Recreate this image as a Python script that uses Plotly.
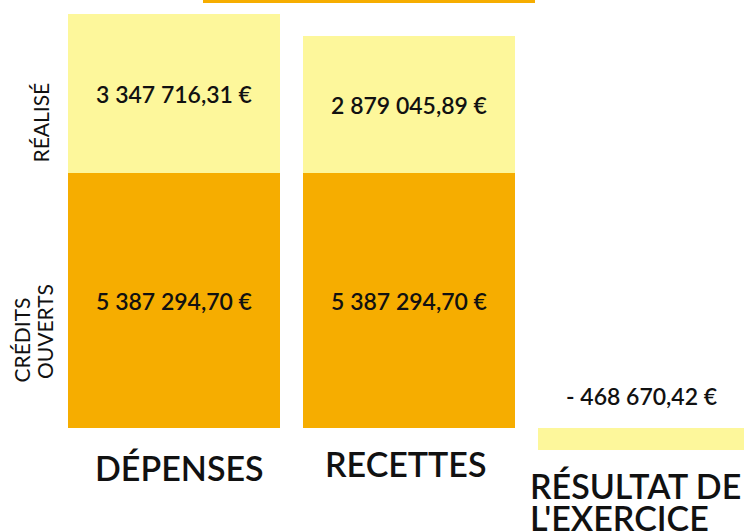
import plotly.graph_objects as go

categories = ["DÉPENSES", "RECETTES", "RÉSULTAT DE L'EXERCICE"]
credits_ouverts = [5387294.70, 5387294.70, None]
realise = [3347716.31, 2879045.89, None]
resultat = [None, None, -468670.42]

credits_txt = ["5 387 294,70 €", "5 387 294,70 €", ""]
realise_txt = ["3 347 716,31 €", "2 879 045,89 €", ""]
resultat_txt = "- 468 670,42 €"

YELLOW = "#FDF79B"
ORANGE = "#F6AD00"
FONT = "Lato"
INK = "#111111"
PX = 21100.0  # data units per pixel
VAL_FONT = dict(family=FONT, size=23, color=INK, weight=600)
CAT_FONT = dict(family=FONT, size=34, color=INK, weight=600)
SIDE_FONT = dict(family=FONT, size=21, color=INK)

fig = go.Figure()
fig.add_trace(go.Bar(x=categories, y=credits_ouverts, marker=dict(color=ORANGE, line=dict(width=0)),
                     width=0.902, text=credits_txt, textposition="inside", insidetextanchor="middle",
                     textfont=VAL_FONT, textangle=0, hoverinfo="skip"))
fig.add_trace(go.Bar(x=categories, y=realise, marker=dict(color=YELLOW, line=dict(width=0)),
                     width=0.902, text=realise_txt, textposition="inside", insidetextanchor="middle",
                     textfont=VAL_FONT, textangle=0, hoverinfo="skip"))
fig.add_trace(go.Bar(x=categories, y=resultat, marker=dict(color=YELLOW, line=dict(width=0)),
                     width=0.902, text=None, hoverinfo="skip"))

def xpx(p):
    return p / 235 - 0.7404

def ypx(p):
    return (428 - p) * PX

annotations = [
    dict(x=xpx(641), y=ypx(396), xref="x", yref="y", text=resultat_txt, showarrow=False,
         font=VAL_FONT, xanchor="center", yanchor="middle"),
    dict(x=xpx(179), y=ypx(467), xref="x", yref="y", text="DÉPENSES", showarrow=False,
         font=CAT_FONT, xanchor="center", yanchor="middle"),
    dict(x=xpx(405), y=ypx(463), xref="x", yref="y", text="RECETTES", showarrow=False,
         font=CAT_FONT, xanchor="center", yanchor="middle"),
    dict(x=xpx(528), y=ypx(485), xref="x", yref="y", text="RÉSULTAT DE",
         showarrow=False, font=CAT_FONT, xanchor="left", yanchor="middle"),
    dict(x=xpx(528), y=ypx(517), xref="x", yref="y", text="L'EXERCICE",
         showarrow=False, font=CAT_FONT, xanchor="left", yanchor="middle"),
    dict(x=39.5 / 744, y=ypx(123), xref="paper", yref="y", text="RÉALISÉ", showarrow=False,
         textangle=-90, font=SIDE_FONT, xanchor="center", yanchor="middle"),
    dict(x=20.5 / 744, y=ypx(340), xref="paper", yref="y", text="CRÉDITS", showarrow=False,
         textangle=-90, font=SIDE_FONT, xanchor="center", yanchor="middle"),
    dict(x=44 / 744, y=ypx(332), xref="paper", yref="y", text="OUVERTS", showarrow=False,
         textangle=-90, font=SIDE_FONT, xanchor="center", yanchor="middle"),
]

fig.update_layout(
    width=744, height=532,
    margin=dict(l=0, r=0, t=0, b=0),
    paper_bgcolor="white", plot_bgcolor="white",
    barmode="relative", bargap=0,
    showlegend=False,
    annotations=annotations,
    shapes=[dict(type="rect", xref="paper", yref="paper", x0=203 / 744, x1=535 / 744,
                 y0=1 - 3 / 532, y1=1, fillcolor=ORANGE, line=dict(width=0), layer="above")],
    xaxis=dict(range=[-0.7404, 2.4255], visible=False, fixedrange=True),
    yaxis=dict(range=[-104 * PX, 428 * PX], visible=False, fixedrange=True),
)

fig.write_html("out.html", config=dict(displayModeBar=False),
               post_script="document.body.style.margin='0';document.body.style.overflow='hidden';")
